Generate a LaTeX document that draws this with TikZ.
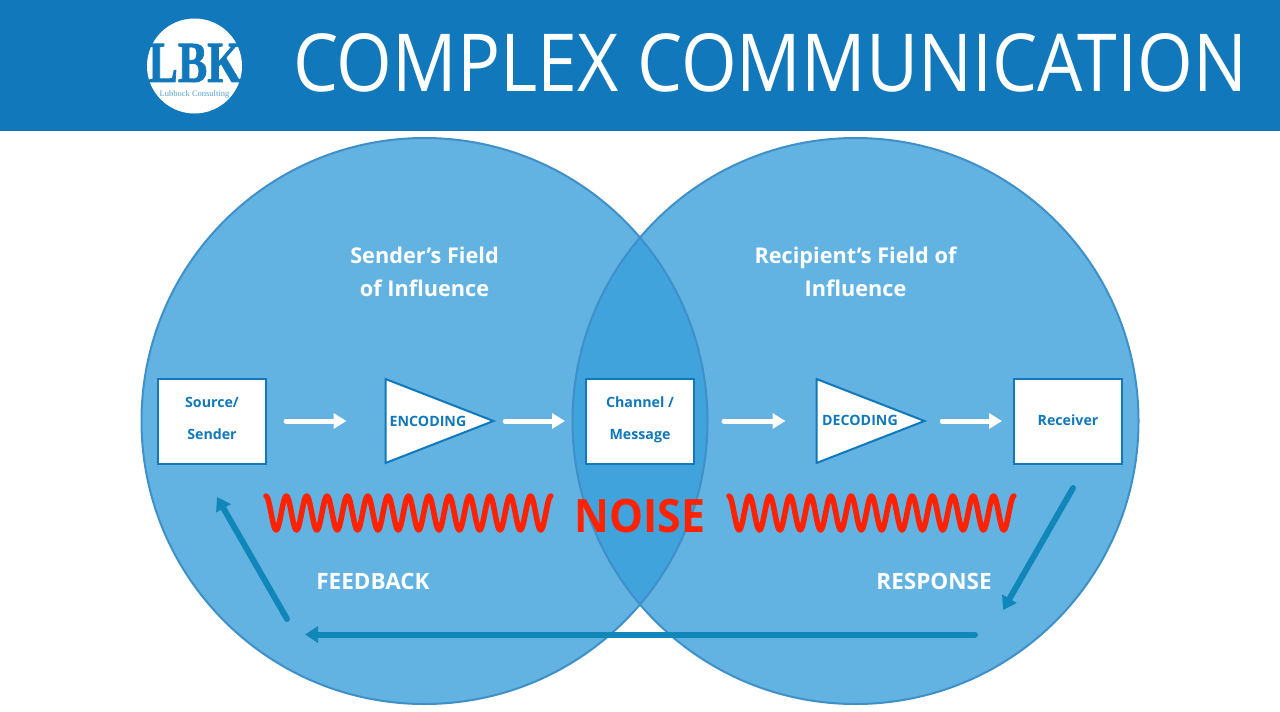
\documentclass[tikz,border=0pt]{standalone}
\usepackage{fontspec}
\setmainfont{Open Sans}
\newfontfamily\logofont[BoldFeatures={FakeBold=1.5}]{Liberation Serif}
\usetikzlibrary{arrows.meta,positioning,shapes.geometric}
\definecolor{headblue}{HTML}{1178BB}
\definecolor{fieldblue}{HTML}{62B3E2}
\definecolor{overlapblue}{HTML}{40A3DC}
\definecolor{rimblue}{HTML}{3F90C8}
\definecolor{loopblue}{HTML}{1087B8}
\definecolor{noisered}{HTML}{FF2200}
\newcommand{\lowline}[1]{\rule[-#1pt]{0pt}{#1pt}}
\tikzset{
    field/.style={circle,fill=fieldblue,minimum size=566pt,inner sep=0pt},
    rim/.style={draw=rimblue,line width=2pt},
    stagebox/.style={draw=headblue,fill=white,line width=2pt,minimum width=108pt,minimum height=85pt,inner sep=0pt,
        text=headblue,font=\fontsize{14.2}{32}\selectfont\bfseries,align=center},
    stagetri/.style={isosceles triangle,isosceles triangle apex angle=76,isosceles triangle stretches,
        draw=headblue,fill=white,line width=2pt,minimum width=84pt,minimum height=108pt,inner sep=0pt,anchor=west},
    stagetext/.style={text=headblue,font=\fontsize{14.2}{17}\selectfont\bfseries},
    fieldtext/.style={text=white,font=\fontsize{21.7}{33}\selectfont\bfseries,align=center},
    flow/.style={draw=white,line width=5pt,line cap=round,-{Triangle[length=13pt,width=15pt]}},
    loopback/.style={draw=loopblue,line width=6pt,line cap=round,-{Triangle[length=13pt,width=16pt]}},
    wave/.style={draw=noisered,line width=5.5pt,line cap=round,line join=round},
}
\begin{document}
\begin{tikzpicture}[x=1pt,y=-1pt]
    \useasboundingbox (0,0) rectangle (1280,712);
    \fill[headblue] (0,0) rectangle (1280,131);
    \node[text=white,font=\fontsize{80}{80}\selectfont,xscale=0.895,transform shape] (title) at (770,62.5) {COMPLEX COMMUNICATION};

    \fill[white] (194.5,66) circle (47.5);
    \node[text=headblue,inner sep=0pt,xscale=0.76,transform shape,font=\logofont\fontsize{58}{58}\selectfont\bfseries] (logo) at (195,63) {LBK};
    \node[text=headblue!70,inner sep=0pt,font=\logofont\fontsize{8.5}{9}\selectfont] (logotext) at (194.5,94) {Lubbock Consulting};

    \node[field] (sender) at (424.5,421) {};
    \node[field] (recipient) at (855.5,421) {};
    \begin{scope}
        \clip (424.5,421) circle (283);
        \fill[overlapblue] (855.5,421) circle (283);
    \end{scope}
    \draw[rim] (424.5,421) circle (283);
    \draw[rim] (855.5,421) circle (283);

    \node[fieldtext] (senderfield) at (424.5,272) {Sender's Field\\of Influence};
    \node[fieldtext] (recipientfield) at (855.5,272) {Recipient's Field of\\Influence};

    \node[stagebox] (source) at (212,421) {Source/\\Sender\lowline{6}};
    \node[stagetri] (encoding) at (384.5,421) {};
    \node[stagetext] (encodingtext) at (428,421) {ENCODING};
    \node[stagebox] (channel) at (640,421) {Channel /\\Message\lowline{6}};
    \node[stagetri] (decoding) at (815.5,421) {};
    \node[stagetext] (decodingtext) at (860,420) {DECODING};
    \node[stagebox] (receiver) at (1068,421) {Receiver\lowline{2}};

    \draw[flow,shorten <=19pt,shorten >=38pt] (source.east) -- (encoding.west);
    \draw[flow,shorten <=10pt,shorten >=20pt] (encoding.apex) -- (channel.west);
    \draw[flow,shorten <=29pt,shorten >=30pt] (channel.east) -- (decoding.west);
    \draw[flow,shorten <=16pt,shorten >=11pt] (decoding.apex) -- (receiver.west);

    \foreach \xstart in {266,729}
        \draw[wave] plot[domain=0:14,samples=253] ({\xstart+20.35*\x},{513-17*cos(360*\x)});
    \node[text=noisered,font=\fontsize{46}{46}\selectfont\bfseries,xscale=0.93,transform shape] (noise) at (640,516) {NOISE};

    \node[fieldtext,font=\fontsize{22.5}{33}\selectfont\bfseries] (feedback) at (373,581) {FEEDBACK};
    \node[fieldtext,font=\fontsize{22.5}{33}\selectfont\bfseries] (response) at (934,581) {RESPONSE};

    \coordinate (responsestart) at (1073,488);
    \coordinate (responseend) at (1003,610);
    \coordinate (returnstart) at (975,634.5);
    \coordinate (returnend) at (305,634.5);
    \coordinate (feedbackstart) at (287,619);
    \coordinate (feedbackend) at (217,497);
    \draw[loopback] (responsestart) -- (responseend);
    \draw[loopback] (returnstart) -- (returnend);
    \draw[loopback] (feedbackstart) -- (feedbackend);
\end{tikzpicture}
\end{document}
